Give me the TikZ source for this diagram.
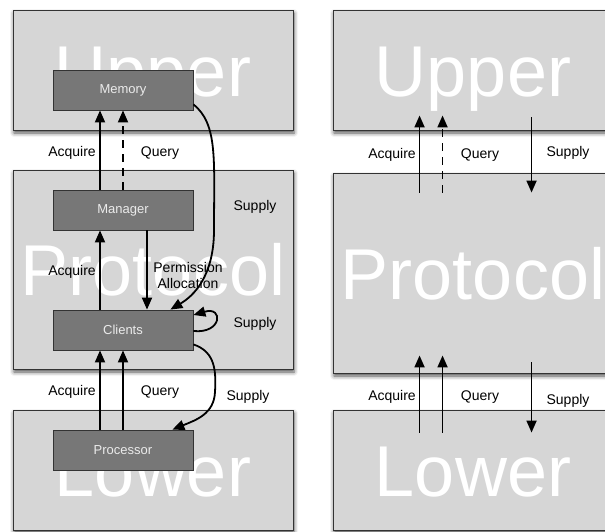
\documentclass[tikz,border=0pt]{standalone}
\usepackage{fontspec}
\setmainfont{Liberation Sans}
\usetikzlibrary{arrows.meta,shadows.blur}
\definecolor{layerfill}{HTML}{D6D6D6}
\definecolor{blockfill}{HTML}{777777}
\definecolor{edgegray}{HTML}{333333}
\begin{document}
\begin{tikzpicture}[x=1pt,y=-1pt,
  layer/.style={draw=edgegray, line width=0.9pt, fill=layerfill,
    minimum width=280pt, inner sep=0pt, text=white,
    font=\fontsize{72}{72}\selectfont, text height=52pt, text depth=0pt,
    blur shadow={shadow xshift=1pt, shadow yshift=-3pt,
      shadow blur radius=4pt, shadow opacity=70}},
  block/.style={draw=edgegray, line width=0.8pt, fill=blockfill,
    minimum width=140pt, minimum height=40pt, inner sep=0pt,
    text=white!92!black, font=\fontsize{13}{15}\selectfont},
  flow/.style={line width=1.8pt, -{Triangle[length=12pt,width=10pt]}},
  dashflow/.style={flow, dash pattern=on 8pt off 6pt},
  lbl/.style={font=\fontsize{14}{16}\selectfont, inner sep=0pt, align=center},
]
\useasboundingbox (0,0) rectangle (605,531);

% left column: layers with their components
\node[layer, minimum height=120pt] (upperL) at (153,70) {Upper};
\node[layer, minimum height=199pt] (protoL) at (153,269.5) {Protocol};
\node[layer, minimum height=120pt] (lowerL) at (153,470) {Lower};

% right column: bare layers
\node[layer, minimum height=120pt] (upperR) at (473,70) {Upper};
\node[layer, minimum height=200pt] (protoR) at (473,273) {Protocol};
\node[layer, minimum height=120pt] (lowerR) at (473,470) {Lower};

% components
\node[block] (memory) at (123,90) {Memory};
\node[block] (manager) at (123,210) {Manager};
\node[block] (clients) at (123,330) {Clients};
\node[block] (processor) at (123,450) {Processor};

% left column flows
\draw[flow] ([xshift=-23pt]manager.north) -- ([xshift=-23pt]memory.south);
\draw[dashflow] (manager.north) -- (memory.south);
\draw[flow] ([xshift=24pt]manager.south) -- ([xshift=24pt]clients.north);
\draw[flow] ([xshift=-23pt]clients.north) -- ([xshift=-23pt]manager.south);
\draw[flow] ([xshift=-23pt]processor.north) -- ([xshift=-23pt]clients.south);
\draw[flow] (processor.north) -- (clients.south);

\draw[flow] ([yshift=6pt]memory.south east)
  .. controls (218,124) and (214,160) .. (214,230)
  .. controls (214,268) and (200,292) .. ([xshift=-23pt]clients.north east);
\draw[flow] ([yshift=-1pt]clients.east)
  .. controls (222,334) and (224,306) .. ([yshift=15pt]clients.east);
\draw[flow] ([yshift=6pt]clients.south east)
  .. controls (216,352) and (216,372) .. (215,392)
  .. controls (214,414) and (196,420) .. ([xshift=-21pt]processor.north east);

% left column labels
\node[lbl] (aq1) at (72,153) {Acquire};
\node[lbl] (qu1) at (160,153) {Query};
\node[lbl] (su1) at (255,207) {Supply};
\node[lbl] (aq2) at (72,272) {Acquire};
\node[lbl] (pa) at (188,275) {Permission\\Allocation};
\node[lbl] (su2) at (255,324) {Supply};
\node[lbl] (aq3) at (72,392) {Acquire};
\node[lbl] (qu3) at (160,392) {Query};
\node[lbl] (su3) at (248,397) {Supply};

% right column flows
\draw[flow] ([shift={(87,20)}]protoR.north west) -- ([shift={(87,-15)}]upperR.south west);
\draw[dashflow] ([shift={(110,20)}]protoR.north west) -- ([shift={(110,-15)}]upperR.south west);
\draw[flow] ([shift={(199,-13)}]upperR.south west) -- ([shift={(199,20)}]protoR.north west);
\draw[flow] ([shift={(87,23)}]lowerR.north west) -- ([shift={(87,-18)}]protoR.south west);
\draw[flow] ([shift={(110,23)}]lowerR.north west) -- ([shift={(110,-18)}]protoR.south west);
\draw[flow] ([shift={(199,-11)}]protoR.south west) -- ([shift={(199,23)}]lowerR.north west);

% right column labels
\node[lbl] (aq4) at (392,155) {Acquire};
\node[lbl] (qu4) at (480,155) {Query};
\node[lbl] (su4) at (568,153) {Supply};
\node[lbl] (aq5) at (392,397) {Acquire};
\node[lbl] (qu5) at (480,397) {Query};
\node[lbl] (su5) at (568,401) {Supply};
\end{tikzpicture}
\end{document}
